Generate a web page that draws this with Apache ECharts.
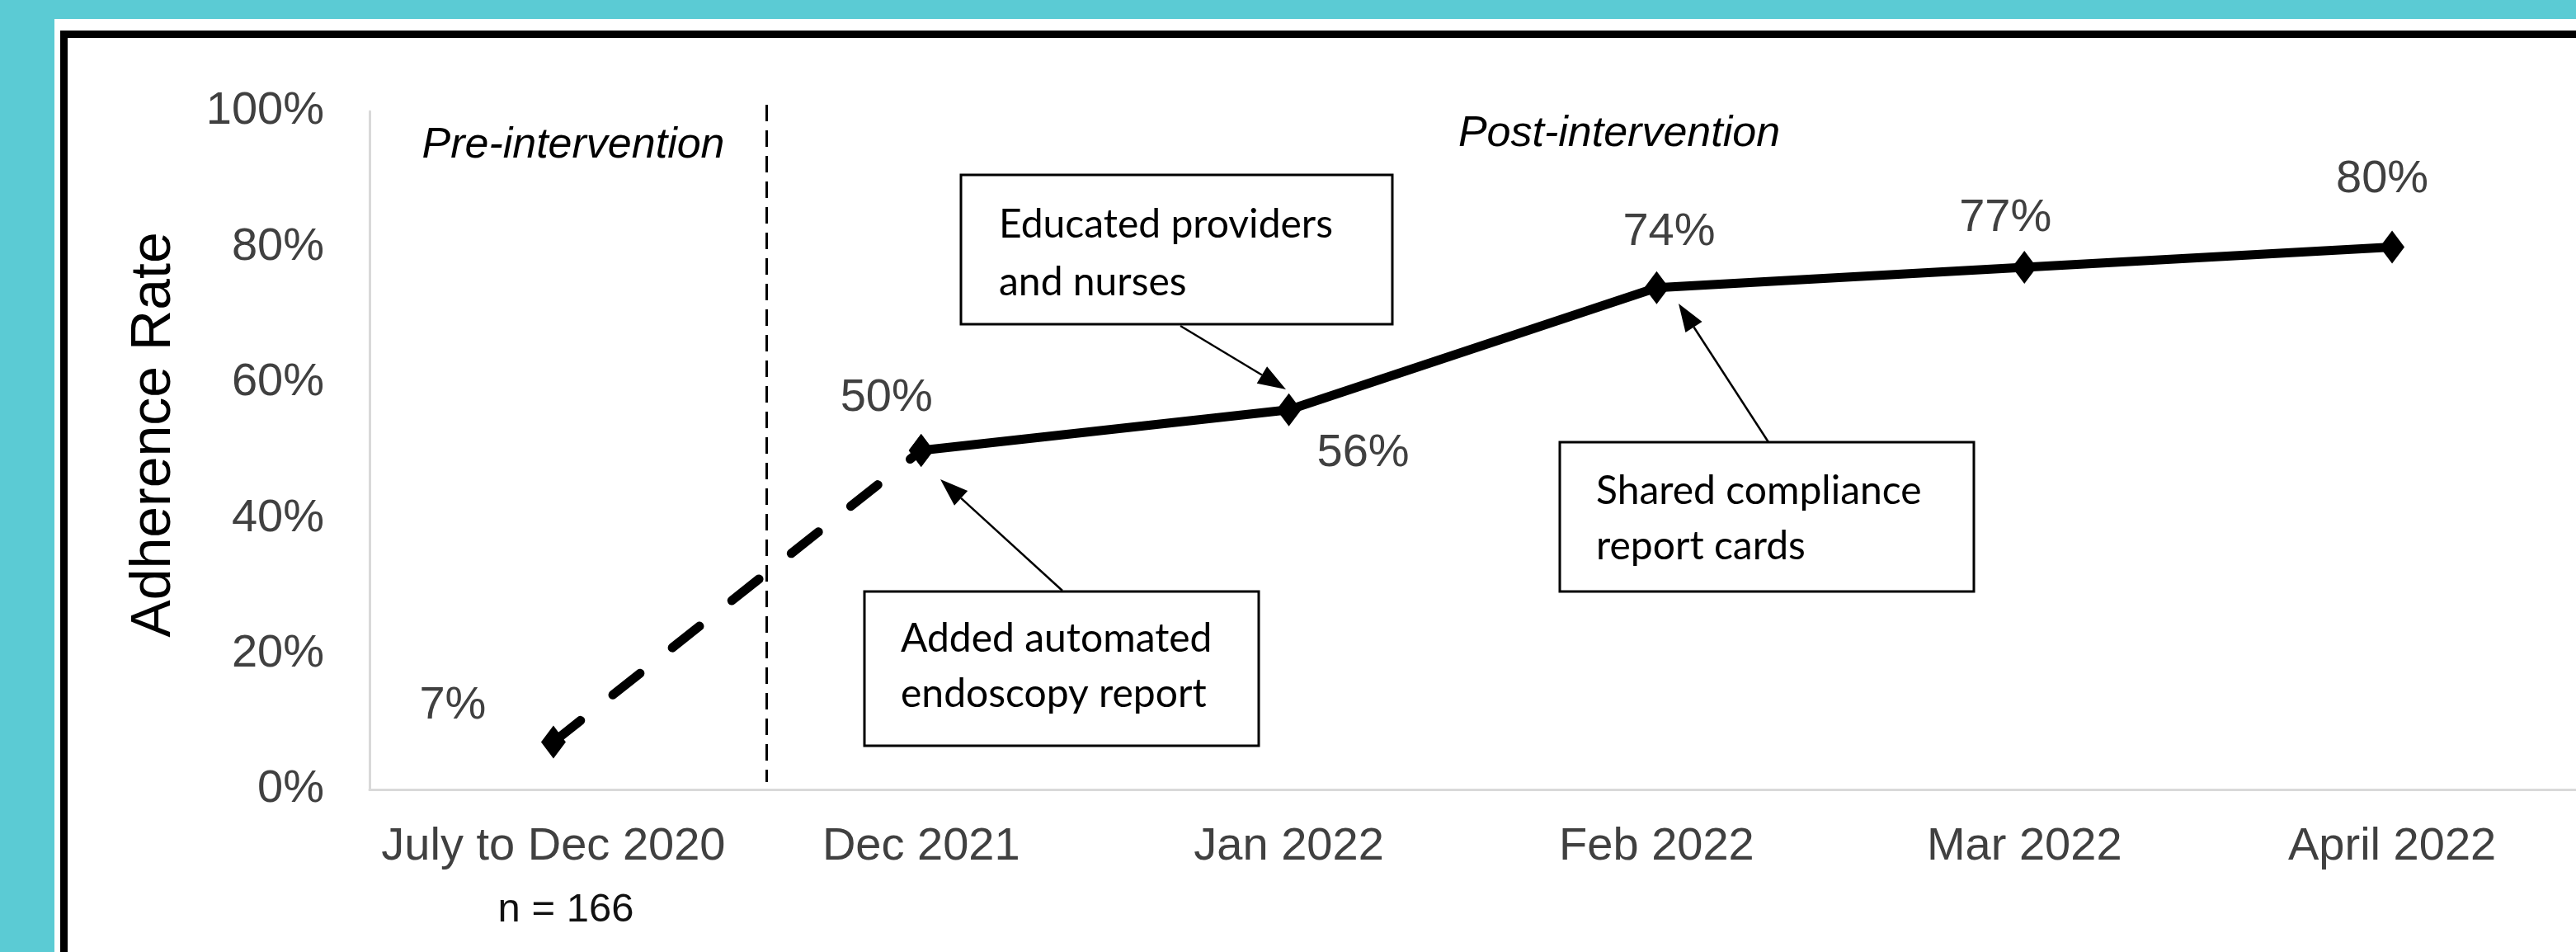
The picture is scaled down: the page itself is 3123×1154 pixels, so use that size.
<!DOCTYPE html>
<html>
<head>
<meta charset="utf-8">
<script src="https://cdn.jsdelivr.net/npm/echarts@6/dist/echarts.min.js"></script>
<style>
  html, body { margin: 0; padding: 0; width: 3123px; height: 1154px; overflow: hidden; background: #5BCBD4; }
  #panel { position: absolute; left: 66px; top: 23px; right: 0; bottom: 0; background: #ffffff; }
  #frameTop { position: absolute; left: 73px; top: 37px; right: 0; height: 9px; background: #000; }
  #frameLeft { position: absolute; left: 73px; top: 37px; width: 9px; bottom: 0; background: #000; }
  #chart { position: absolute; left: 0; top: 0; width: 3123px; height: 1154px; }
</style>
</head>
<body>
<div id="panel"></div>
<div id="frameTop"></div>
<div id="frameLeft"></div>
<div id="chart"></div>
<script>
// ---- data ----
const categories = ['July to Dec 2020', 'Dec 2021', 'Jan 2022', 'Feb 2022', 'Mar 2022', 'April 2022'];
const adherence = [7, 50, 56, 74, 77, 80];
const preCount = [0, 1];          // indices of the pre -> first post (dashed) segment
const postIdx = [1, 2, 3, 4, 5];  // indices of the solid post-intervention line
const yTicks = [0, 20, 40, 60, 80, 100];
const phaseLabels = ['Pre-intervention', 'Post-intervention'];
const sampleNote = 'n = 166';
const notes = [
  ['Educated providers', 'and nurses'],
  ['Shared compliance', 'report cards'],
  ['Added automated', 'endoscopy report']
];

// ---- styling (not data) ----
const labelOffsets = [[-122, -44], [-42, -63], [90, 53], [15, -67], [-23, -59], [-12, -82]];
const FONT = "'Liberation Sans', Arial, sans-serif";
const NOTEFONT = "Lato, 'Open Sans', sans-serif";

const chart = echarts.init(document.getElementById('chart'), null, { renderer: 'canvas' });

function item(i) {
  return { value: adherence[i], label: { offset: labelOffsets[i] } };
}
const dashedData = adherence.map((v, i) => (preCount.indexOf(i) >= 0 ? (i === 0 ? item(i) : { value: v, label: { show: false } }) : '-'));
const solidData = adherence.map((v, i) => (postIdx.indexOf(i) >= 0 ? item(i) : '-'));

const labelStyle = {
  show: true,
  position: 'inside',
  fontSize: 56,
  fontFamily: FONT,
  color: '#404040',
  formatter: p => p.value + '%'
};

chart.setOption({
  animation: false,
  backgroundColor: 'transparent',
  grid: { left: 448, top: 135, width: 2688, height: 822, containLabel: false },
  xAxis: {
    type: 'category',
    data: categories,
    boundaryGap: true,
    axisLine: { show: true, lineStyle: { color: '#d9d9d9', width: 3 } },
    axisTick: { show: false },
    axisLabel: { fontSize: 56, fontFamily: FONT, color: '#404040', margin: 42, interval: 0 },
    splitLine: { show: false }
  },
  yAxis: {
    type: 'value',
    min: yTicks[0],
    max: yTicks[yTicks.length - 1],
    interval: yTicks[1] - yTicks[0],
    axisLine: { show: true, lineStyle: { color: '#d9d9d9', width: 3 } },
    axisTick: { show: false },
    splitLine: { show: false },
    axisLabel: { fontSize: 56, fontFamily: FONT, color: '#404040', margin: 55, formatter: '{value}%', padding: [0, 0, 10, 0] }
  },
  series: [
    {
      type: 'line',
      data: dashedData,
      z: 3,
      symbol: 'diamond',
      symbolSize: [30, 40],
      itemStyle: { color: '#000' },
      lineStyle: { color: '#000', width: 11, type: [42, 50], cap: 'round' },
      label: labelStyle,
      emphasis: { disabled: true }
    },
    {
      type: 'line',
      data: solidData,
      z: 4,
      symbol: 'diamond',
      symbolSize: [30, 40],
      itemStyle: { color: '#000' },
      lineStyle: { color: '#000', width: 11, type: 'solid' },
      label: labelStyle,
      emphasis: { disabled: true }
    }
  ]
});

// ---- annotations ----
function arrow(x1, y1, x2, y2) {
  const dx = x2 - x1, dy = y2 - y1;
  const len = Math.sqrt(dx * dx + dy * dy);
  const ux = dx / len, uy = dy / len;
  const hl = 34, hw = 12;
  const bx = x2 - ux * hl, by = y2 - uy * hl;
  return [
    { type: 'line', shape: { x1: x1, y1: y1, x2: bx, y2: by }, style: { stroke: '#000', lineWidth: 2.5 }, z: 10 },
    { type: 'polygon', shape: { points: [[x2, y2], [bx - uy * hw, by + ux * hw], [bx + uy * hw, by - ux * hw]] }, style: { fill: '#000' }, z: 10 }
  ];
}
function box(x, y, w, h, lines, tx, ty1, ty2) {
  return [
    { type: 'rect', shape: { x: x, y: y, width: w, height: h }, style: { fill: '#fff', stroke: '#000', lineWidth: 3 }, z: 9 },
    { type: 'text', x: tx, y: ty1, style: { text: lines[0], font: '48px ' + NOTEFONT, fill: '#000', textVerticalAlign: 'middle', textAlign: 'left' }, z: 11 },
    { type: 'text', x: tx, y: ty2, style: { text: lines[1], font: '48px ' + NOTEFONT, fill: '#000', textVerticalAlign: 'middle', textAlign: 'left' }, z: 11 }
  ];
}

const p0 = chart.convertToPixel({ xAxisIndex: 0 }, 0);
const p1 = chart.convertToPixel({ xAxisIndex: 0 }, 1);
const divX = p0 + (p1 - p0) * 0.58;

let els = [];
els.push({ type: 'line', shape: { x1: divX, y1: 127, x2: divX, y2: 948 }, style: { stroke: '#000', lineWidth: 3, lineDash: [20, 11] }, z: 1 });
els.push({ type: 'text', x: 695, y: 177, style: { text: phaseLabels[0], font: 'italic 52px ' + FONT, fill: '#000', textAlign: 'center', textVerticalAlign: 'middle' } });
els.push({ type: 'text', x: 1963, y: 163, style: { text: phaseLabels[1], font: 'italic 52px ' + FONT, fill: '#000', textAlign: 'center', textVerticalAlign: 'middle' } });
els.push({ type: 'text', x: 187, y: 527, rotation: Math.PI / 2, style: { text: 'Adherence Rate', font: '68px ' + FONT, fill: '#000', textAlign: 'center', textVerticalAlign: 'middle' } });
els.push({ type: 'text', x: 686, y: 1103, style: { text: sampleNote, font: '49px ' + FONT, fill: '#111', textAlign: 'center', textVerticalAlign: 'middle' } });

els = els.concat(box(1165, 212, 523, 181, notes[0], 1211, 273, 343));
els = els.concat(box(1891, 536, 502, 181, notes[1], 1935, 596, 663));
els = els.concat(box(1048, 717, 478, 187, notes[2], 1092, 775, 842));
els = els.concat(arrow(1431, 395, 1559, 472));
els = els.concat(arrow(2144, 536, 2035, 368));
els = els.concat(arrow(1288, 716, 1140, 581));

chart.setOption({ graphic: { elements: els } });
</script>
</body>
</html>
